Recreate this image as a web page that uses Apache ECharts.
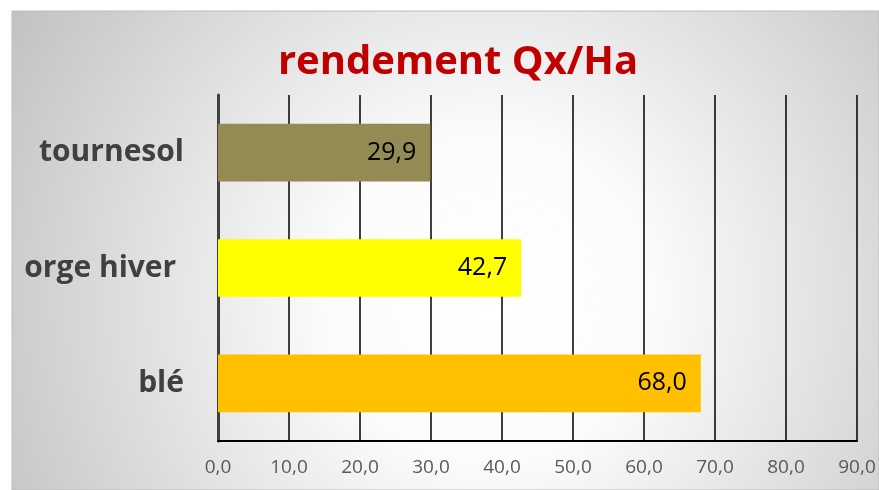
<!DOCTYPE html>
<html>
<head>
<meta charset="utf-8">
<script src="https://cdn.jsdelivr.net/npm/echarts@6/dist/echarts.min.js"></script>
<style>
  html, body { margin: 0; padding: 0; background: #fff; }
  #chart { width: 879px; height: 490px; }
</style>
</head>
<body>
<div id="chart"></div>
<script>
(function() {
  var myChart = echarts.init(document.getElementById("chart"));

  // données
  var categories = ["blé", "orge hiver ", "tournesol"];
  var rendements = [68.0, 42.7, 29.9];
  var couleurs = ["#FFC000", "#FFFF00", "#948A54"];
  var axisMin = 0, axisMax = 90, axisStep = 10;

  var fmt = function(v) {
    return Number(v).toFixed(1).replace(".", ",");
  };

  var option = {
    animation: false,
    graphic: [{
      type: "rect",
      z: -10,
      shape: { x: 12, y: 11, width: 867, height: 479 },
      style: {
        fill: new echarts.graphic.RadialGradient(0.55, 0.6, 1.15, [
          { offset: 0, color: "#ffffff" },
          { offset: 0.3, color: "#fbfbfb" },
          { offset: 1, color: "#c2c2c2" }
        ]),
        stroke: "#bdbdbd",
        lineWidth: 1
      }
    }],
    title: {
      text: "rendement Qx/Ha",
      left: 453,
      textAlign: "center",
      top: 38,
      textStyle: {
        color: "#C00000",
        fontFamily: "Open Sans",
        fontWeight: "bold",
        fontSize: 40
      }
    },
    grid: {
      left: 218,
      right: 22,
      top: 95,
      bottom: 49,
      containLabel: false
    },
    xAxis: {
      type: "value",
      min: axisMin,
      max: axisMax,
      interval: axisStep,
      axisLine: { show: true, lineStyle: { color: "#000", width: 2 } },
      axisTick: { show: false },
      axisLabel: {
        formatter: fmt,
        color: "#595959",
        fontFamily: "Open Sans",
        fontSize: 19,
        margin: 17
      },
      splitLine: { show: true, lineStyle: { color: "#000", width: 1.5 } }
    },
    yAxis: {
      type: "category",
      data: categories,
      axisLine: { show: true, lineStyle: { color: "#404040", width: 3 } },
      axisTick: { show: false },
      axisLabel: {
        color: "#404040",
        fontFamily: "Open Sans",
        fontWeight: "bold",
        fontSize: 30,
        margin: 34
      }
    },
    series: [{
      type: "bar",
      data: rendements.map(function(v, i) {
        return { value: v, itemStyle: { color: couleurs[i] } };
      }),
      barWidth: "50%",
      label: {
        show: true,
        position: "insideRight",
        distance: 14,
        formatter: function(p) { return fmt(p.value); },
        color: "#000",
        fontFamily: "Open Sans",
        fontSize: 25
      }
    }]
  };
  myChart.setOption(option);
})();
</script>
</body>
</html>
